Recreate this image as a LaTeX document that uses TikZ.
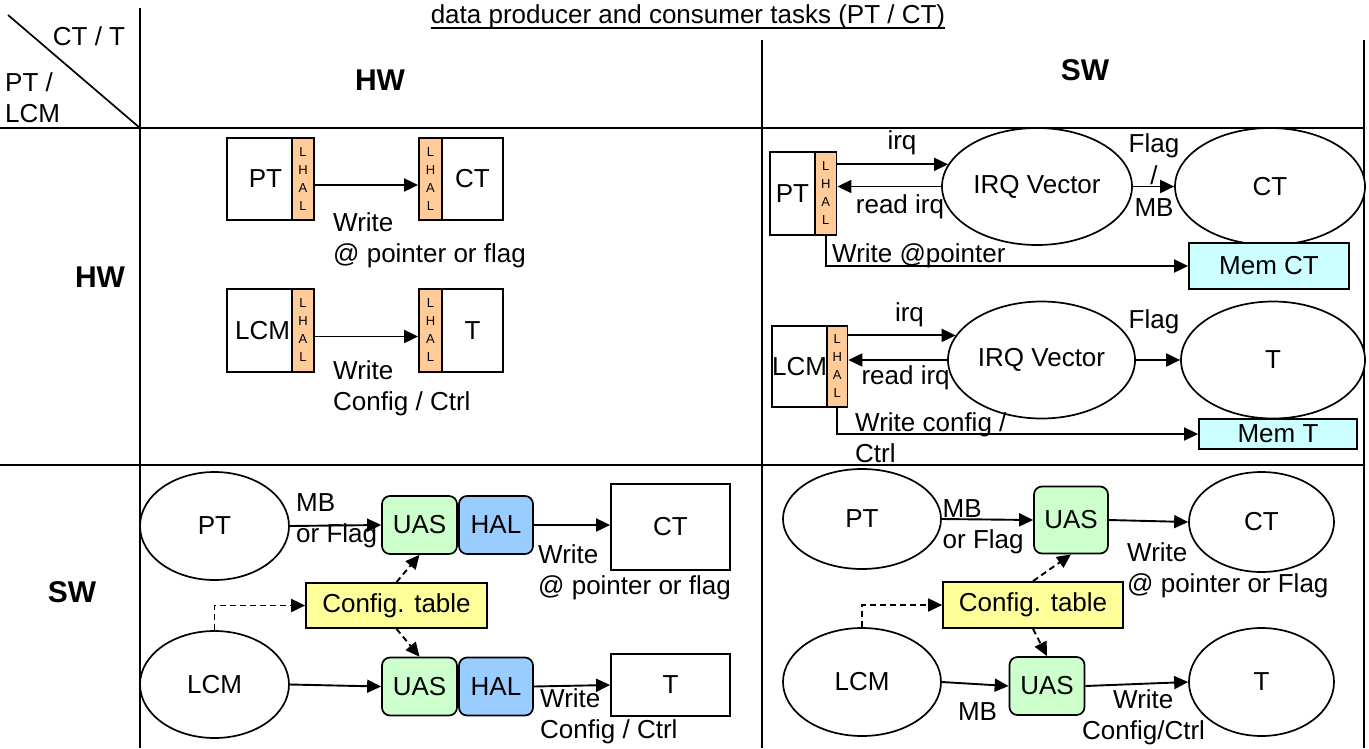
\documentclass[tikz,border=0pt]{standalone}
\usepackage{fontspec}
\setmainfont{Liberation Sans}
\usetikzlibrary{arrows.meta,shapes.geometric,calc}
\definecolor{lhalfill}{HTML}{FFCC99}
\definecolor{uasfill}{HTML}{CCFFCC}
\definecolor{halfill}{HTML}{99CCFF}
\definecolor{cfgfill}{HTML}{FFFF99}
\definecolor{memfill}{HTML}{CCFFFF}
\begin{document}
\begin{tikzpicture}[x=1pt,y=-1pt,
  every node/.style={inner sep=0pt, font=\fontsize{26}{31}\selectfont},
  rule/.style={line width=2.2pt},
  frame/.style={draw, line width=1.8pt, fill=white},
  lhal/.style={draw, line width=1.8pt, fill=lhalfill, font=\fontsize{13}{18}\selectfont, align=center},
  oval/.style={draw, ellipse, line width=1.7pt, fill=white},
  uas/.style={draw, line width=1.7pt, rounded corners=8pt, fill=uasfill},
  hal/.style={draw, line width=1.7pt, rounded corners=8pt, fill=halfill},
  cfg/.style={draw, line width=1.7pt, fill=cfgfill},
  mem/.style={draw, line width=1.8pt, fill=memfill},
  arr/.style={-{Triangle[length=14pt,width=13pt]}, line width=1.9pt},
  darr/.style={arr, dash pattern=on 6pt off 4pt},
  lbl/.style={align=left, anchor=west},
  hdr/.style={font=\fontsize{30}{34}\selectfont\bfseries},
]
\useasboundingbox (0,0) rectangle (1369,748);

% ---- table grid ----
\draw[rule] (140,8) -- (140,748);
\draw[rule] (762,40) -- (762,748);
\draw[rule] (1364,40) -- (1364,748);
\draw[rule] (0,128) -- (1364,128);
\draw[rule] (0,465) -- (1364,465);
\draw[line width=1.7pt] (8,15) -- (140,128);

\node (title) at (688,17) {data producer and consumer tasks (PT / CT)};
\draw[line width=1.7pt] ($(title.base west)+(0,4)$) -- ($(title.base east)+(0,4)$);

\node (cornerT) at (89,36) {CT / T};
\node[lbl] (cornerP) at (5,98) {PT /\\LCM};
\node[hdr] (colhw) at (380,80) {HW};
\node[hdr] (colsw) at (1085,70) {SW};
\node[hdr] (rowhw) at (100,277) {HW};
\node[hdr] (rowsw) at (72,592) {SW};

% ---- HW producer -> HW consumer ----
\node[frame, minimum width=65pt, minimum height=82pt] (pta) at (259.5,179) {\hspace*{12pt}PT};
\node[lhal, minimum width=22pt, minimum height=82pt] (ptal) at (303,179) {L\\H\\A\\L};
\node[lhal, minimum width=23pt, minimum height=82pt] (ctal) at (430.5,179) {L\\H\\A\\L};
\node[frame, minimum width=61pt, minimum height=82pt] (cta) at (472.5,179) {CT};
\draw[arr] ($(ptal.east)+(0,6)$) -- ($(ctal.west)+(0,6)$);
\node[lbl] (wra) at (333,240) {Write\\@ pointer or flag};

\node[frame, minimum width=65pt, minimum height=83pt] (lcma) at (259.5,330.5) {\hspace*{6pt}LCM};
\node[lhal, minimum width=22pt, minimum height=83pt] (lcmal) at (303,330.5) {L\\H\\A\\L};
\node[lhal, minimum width=23pt, minimum height=83pt] (tal) at (430.5,330.5) {L\\H\\A\\L};
\node[frame, minimum width=61pt, minimum height=83pt] (ta) at (472.5,330.5) {T};
\draw[arr] ($(lcmal.east)+(0,6)$) -- ($(tal.west)+(0,6)$);
\node[lbl] (wrb) at (333,388) {Write\\Config / Ctrl};

% ---- HW producer -> SW consumer ----
\node[frame, minimum width=45pt, minimum height=83pt] (ptb) at (792.5,193.5) {PT};
\node[lhal, minimum width=21.5pt, minimum height=83pt] (ptbl) at (825.75,193.5) {L\\H\\A\\L};
\node[oval, minimum width=190pt, minimum height=117pt] (irqa) at (1037,186.5) {IRQ Vector};
\node[oval, minimum width=190pt, minimum height=117pt] (ctb) at (1270,186.5) {CT};
\node[mem, minimum width=160pt, minimum height=46pt] (memct) at (1269,266) {Mem CT};
\draw[arr] (ptbl.east |- irqa.166.8) -- (irqa.166.8);
\draw[arr] (irqa.west) -- (ptbl.east |- irqa.west);
\draw[arr] (irqa.east) -- (ctb.west);
\draw[arr] (ptbl.south) -- (ptbl.south |- memct.west) -- (memct.west);
\node (irqla) at (902,143) {irq};
\node (rdla) at (900,207) {read irq};
\node[align=center, font=\fontsize{26}{32}\selectfont] (flagla) at (1154,175) {Flag\\/\\MB};
\node[lbl] (wrc) at (832,256) {Write @pointer};

\node[frame, minimum width=55pt, minimum height=81pt] (lcmb) at (799.5,366.3) {LCM};
\node[lhal, minimum width=20.5pt, minimum height=81pt] (lcmbl) at (837.2,366.3) {L\\H\\A\\L};
\node[oval, minimum width=187pt, minimum height=117pt] (irqb) at (1041.5,360) {IRQ Vector};
\node[oval, minimum width=184pt, minimum height=117pt] (tb) at (1273,360) {T};
\node[mem, minimum width=158pt, minimum height=30pt] (memt) at (1278,434) {Mem T};
\draw[arr] (lcmbl.east |- irqb.164.8) -- (irqb.164.8);
\draw[arr] (irqb.west) -- (lcmbl.east |- irqb.west);
\draw[arr] (irqb.east) -- (tb.west);
\draw[arr] (lcmbl.south) -- (lcmbl.south |- memt.west) -- (memt.west);
\node (irqlb) at (909.5,315) {irq};
\node (rdlb) at (905.6,378) {read irq};
\node (flaglb) at (1154,322) {Flag};
\node[lbl] (wrd) at (855,438) {Write config /\\Ctrl};

% ---- SW producer -> HW consumer ----
\node[oval, minimum width=149pt, minimum height=108pt] (ptc) at (214.5,526) {PT};
\node[uas, minimum width=75pt, minimum height=58pt] (uasa) at (419.5,525) {UAS};
\node[hal, minimum width=74pt, minimum height=58pt] (hala) at (496,525) {HAL};
\node[frame, minimum width=119pt, minimum height=86pt] (ctc) at (670.5,527) {CT};
\draw[arr] (ptc.east) -- (uasa.west);
\draw[arr] (hala.east) -- (ctc.west |- hala.east);
\node[lbl] (mbc) at (296,521) {MB\\or Flag};
\node[lbl] (wre) at (538,572) {Write\\@ pointer or flag};

\node[cfg, minimum width=181pt, minimum height=45pt] (cfga) at (396.5,605.5) {Config. table};
\node[oval, minimum width=149pt, minimum height=107pt] (lcmc) at (214.5,684.5) {LCM};
\node[uas, minimum width=75pt, minimum height=58pt] (uasb) at (419.5,686.5) {UAS};
\node[hal, minimum width=74pt, minimum height=58pt] (halb) at (496,686.5) {HAL};
\node[frame, minimum width=119pt, minimum height=62pt] (tc) at (670.5,685) {T};
\draw[arr] (lcmc.east) -- (uasb.west);
\draw[arr] (halb.east) -- (tc.west);
\draw[darr] (cfga.north) -- (uasa.south);
\draw[darr] (cfga.south) -- (uasb.north);
\draw[darr] (lcmc.north) -- (lcmc.north |- cfga.west) -- (cfga.west);
\node[lbl] (wrf) at (540,716) {Write\\Config / Ctrl};

% ---- SW producer -> SW consumer ----
\node[oval, minimum width=158pt, minimum height=100pt] (ptd) at (862,519) {PT};
\node[uas, minimum width=74pt, minimum height=67pt] (uasc) at (1071,520) {UAS};
\node[oval, minimum width=145pt, minimum height=100pt] (ctd) at (1261.5,522) {CT};
\draw[arr] (ptd.east) -- (uasc.west);
\draw[arr] (uasc.east) -- (ctd.west);
\node[lbl] (mbd) at (942.5,527) {MB\\or Flag};
\node[lbl] (wrg) at (1127,570) {Write\\@ pointer or Flag};

\node[cfg, minimum width=180pt, minimum height=46pt] (cfgb) at (1033,605) {Config. table};
\node[oval, minimum width=158pt, minimum height=108pt] (lcmd) at (862,682) {LCM};
\node[uas, minimum width=75pt, minimum height=58pt] (uasd) at (1047,686) {UAS};
\node[oval, minimum width=145pt, minimum height=108pt] (td) at (1261.5,682) {T};
\draw[arr] (lcmd.east) -- (uasd.west);
\draw[arr] (uasd.east) -- (td.west);
\draw[darr] (cfgb.north) -- (uasc.south);
\draw[darr] (cfgb.south) -- (uasd.north);
\draw[darr] (lcmd.north) -- (lcmd.north |- cfgb.west) -- (cfgb.west);
\node (mbe) at (977.5,712) {MB};
\node[lbl] (wrh) at (1082,717) {\hspace*{31pt}Write\\Config/Ctrl};
\end{tikzpicture}
\end{document}
